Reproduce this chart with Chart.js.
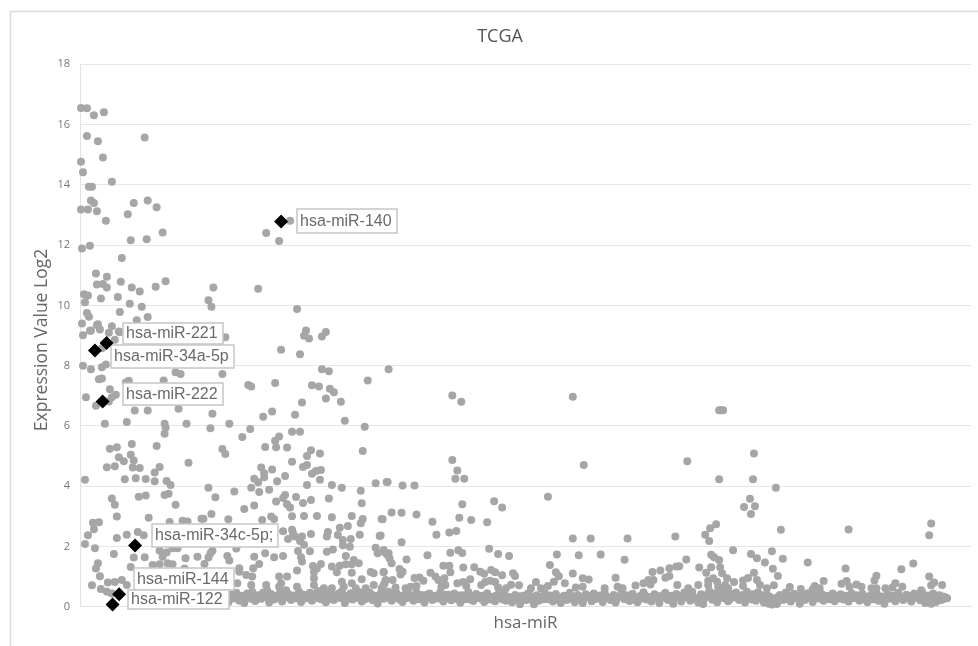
<!DOCTYPE html>
<html><head><meta charset="utf-8">
<style>html,body{margin:0;padding:0;background:#fff}#w{width:978px;height:646px;position:relative}</style>
<script src="https://cdn.jsdelivr.net/npm/chart.js@4"></script></head>
<body><div id="w"><canvas id="c" width="978" height="646"></canvas></div>
<script>
const chartTitle = 'TCGA';
const xTitle = 'hsa-miR';
const yTitle = 'Expression Value Log2';
const yTicks = [0,2,4,6,8,10,12,14,16,18];
const highlightNames = ['hsa-miR-140','hsa-miR-221','hsa-miR-34a-5p','hsa-miR-222','hsa-miR-34c-5p;','hsa-miR-144','hsa-miR-122'];
const highlightRank = [282,106.7,95,102.7,135.3,119.3,112.7];
const highlightValue = [12.78,8.75,8.5,6.81,2.03,0.41,0.07];
const sparsePoints = [[81,16.55],[87,16.54],[94,16.31],[104,16.41],[87,15.62],[98,15.45],[145,15.57],[103,14.91],[81,14.77],[83,14.42],[112,14.1],[89,13.94],[92,13.94],[91,13.48],[94,13.4],[148,13.48],[134,13.4],[157,13.26],[81,13.18],[88,13.18],[97,13.12],[128,13.02],[106,12.81],[163,12.42],[131,12.16],[147,12.19],[90,11.98],[82,11.89],[122,11.57],[96,11.06],[107,10.95],[97,10.69],[103,10.71],[107,10.59],[121,10.78],[132,10.59],[140,10.46],[156,10.62],[166,10.8],[84,10.37],[88,10.33],[101,10.23],[118,10.28],[85,10.1],[130,10.05],[142,9.95],[87,9.75],[89,9.62],[120,9.78],[148,9.61],[137,9.51],[82,9.4],[97,9.35],[112,9.31],[100,9.2],[90,9.16],[83,9.01],[120,9.11],[109,9.09],[209,10.17],[212,9.95],[214,10.59],[259,10.55],[267,12.4],[280,12.14],[291,12.81],[298,9.88],[307,9.17],[305,8.99],[310,8.9],[323,8.97],[327,9.12],[226,8.94],
[98,9.37],[91,9.17],[119,9.13],[115,8.86],[102,8.58],[282,8.53],[301,8.38],[83,8],[91,7.88],[102,7.95],[106,8.04],[176,7.78],[181,7.72],[223,7.72],[323,7.88],[330,7.81],[390,7.88],[99,7.55],[102,7.57],[126,7.44],[129,7.5],[164,7.51],[249,7.36],[252,7.31],[276,7.42],[369,7.51],[313,7.35],[320,7.31],[331,7.23],[335,7.12],[327,6.91],[342,6.8],[303,6.78],[110,7.22],[86,6.95],[116,7.03],[112,6.95],[109,6.81],[96,6.67],[135,6.51],[148,6.51],[179,6.57],[213,6.4],[273,6.48],[264,6.3],[296,6.37],[105,6.07],[127,6.13],[165,6.07],[166,5.94],[165,5.74],[187,6.07],[211,5.92],[230,6.07],[251,5.9],[346,6.17],[366,5.97],[293,5.81],[301,5.81],[243,5.63],[280,5.65],[276,5.51],[132,5.4],[117,5.29],[110,5.24],[157,5.33],[266,5.3],[277,5.29],[288,5.28],[223,5.23],[226,5.07],[364,5.17],[312,5.19],[321,5.08],[308,5],[119,4.96],[124,4.83],[131,5.04],[134,4.85],[189,4.78],[293,4.81],[107,4.63],[115,4.66],[133,4.62],[140,4.6],[160,4.64],[155,4.45],[262,4.62],[273,4.55],[308,4.7],[304,4.64],[322,4.54],[317,4.5],[313,4.41],[85,4.21],[125,4.23],[136,4.26],[146,4.24],[155,4.16],[167,4.17],[171,4.04],[265,4.43],[265,4.3],[255,4.25],[259,4.13],[278,4.16],[286,4.34],[321,4.21],[308,4.04],[333,4.04],[343,3.95],[377,4.1],[388,4.14],[209,3.95],[252,3.95],[260,3.81],[270,3.88],[235,3.82],[362,3.85],[216,3.63],[139,3.65],[146,3.69],[165,3.71],[169,3.75],[112,3.59],[115,3.38],[176,3.38],[286,3.71],[284,3.61],[297,3.64],[277,3.49],[304,3.44],[312,3.54],[330,3.59],[363,3.43],[288,3.4],[291,3.29],[255,3.36],[245,3.24],
[117,2.99],[149,2.95],[212,3.08],[202,2.92],[204,2.92],[229,2.9],[183,2.85],[188,2.83],[170,2.81],[263,2.88],[272,2.99],[275,2.91],[293,3],[305,3.01],[318,3.01],[333,2.97],[353,3.01],[364,2.91],[362,2.77],[383,2.91],[349,2.68],[341,2.62],[93,2.79],[99,2.8],[94,2.57],[88,2.37],[85,2.08],[95,1.94],[117,2.28],[127,2.39],[138,2.48],[144,2.37],[284,2.5],[293,2.55],[294,2.44],[296,2.33],[303,2.33],[312,2.41],[329,2.48],[328,2.33],[339,2.38],[361,2.39],[381,2.35],[289,2.25],[301,2.18],[344,2.21],[352,2.25],[344,2.04],[351,1.99],[305,2.06],[377,1.96],[385,1.88],[160,1.86],[167,1.8],[173,1.94],[178,1.94],[213,1.86],[211,1.77],[237,1.93],[266,1.77],[299,1.85],[311,1.84],[328,1.82],[334,1.9],[379,1.77],[390,1.77],[114,1.75],[134,1.63],[145,1.64],[163,1.66],[186,1.61],[198,1.66],[209,1.63],[228,1.68],[230,1.53],[255,1.66],[275,1.64],[284,1.68],[302,1.64],[347,1.68],[98,1.44],[96,1.27],[131,1.32],[153,1.38],[160,1.41],[168,1.44],[173,1.41],[205,1.42],[185,1.27],[260,1.42],[254,1.28],[303,1.5],[314,1.35],[322,1.42],[333,1.33],[341,1.36],[347,1.41],[355,1.55],[360,1.44],[318,1.27],[240,1.28],[353,1.41],[298,1.2],[338,1.14],[353,1.13],[315,1.15],[372,1.15],[375,1.11],[385,1.14],[240,1.16],[247,1.05],[253,1],[280,1],[288,1],[100,1.01],[122,0.89],[108,0.8],[115,0.82],[92,0.71],[101,0.59],[107,0.5],[112,0.44],[127,0.72],[315,0.94],[343,0.83],[267,0.72],[282,0.78],[298,0.66],[353,0.78],[363,0.91],[375,0.72],[386,0.78],[238,0.78],[252,0.72],[280,0.66],[315,0.72],[325,0.61],[333,0.61],[345,0.66],[357,0.61],[367,0.61],[383,0.61],[268,0.55],[287,0.55],
[454,7.01],[463,6.8],[575,6.97],[454,4.87],[459,4.52],[457,4.25],[466,4.25],[586,4.7],[389,4.14],[404,4.02],[416,4.02],[550,3.65],[496,3.5],[504,3.29],[464,3.4],[393,3.13],[403,3.12],[418,3.06],[384,2.9],[461,2.95],[473,2.88],[434,2.82],[489,2.8],[458,2.51],[451,2.46],[438,2.39],[382,2.36],[575,2.26],[593,2.26],[630,2.26],[678,2.33],[403,2.14],[491,1.92],[452,1.79],[460,1.87],[464,1.78],[500,1.75],[511,1.68],[559,1.73],[581,1.71],[603,1.73],[429,1.71],[385,1.83],[388,1.74],[391,1.6],[393,1.44],[408,1.57],[627,1.56],[552,1.38],[445,1.36],[451,1.36],[465,1.3],[476,1.31],[401,1.25],[404,1.16],[402,1.07],[385,1.15],[452,1.14],[432,1.13],[482,1.16],[486,1.09],[493,1.22],[497,1.14],[504,1.04],[515,1.11],[517,1.02],[558,1.14],[561,1.01],[575,1.1],[655,1.15],[663,1.2],[672,1.28],[679,1.33],[672,1.02],[668,0.96],[416,0.95],[421,0.97],[425,0.86],[437,1],[440,0.89],[446,0.94],[387,0.89],[394,0.89],[618,0.96],[585,0.94],[591,0.9],[656,0.89],[651,0.89],[653,0.74],[646,0.78],[638,0.7],[538,0.82],[556,0.83],[567,0.78],[459,0.78],[465,0.82],[472,0.91],[487,0.82],[492,0.86],[497,0.82],[513,0.73],[521,0.71],[447,0.72],[385,0.72],[397,0.64],[407,0.61],[412,0.66],[418,0.69],[443,0.66],[468,0.69],[483,0.72],[500,0.64],[508,0.61],[533,0.61],[543,0.61],[550,0.69],[578,0.64],[585,0.66],[607,0.61],[620,0.66],[625,0.61],[680,0.72],
[722,6.52],[726,6.52],[724,6.52],[757,5.08],[690,4.83],[722,4.23],[756,4.23],[779,3.95],[753,3.58],[747,3.31],[758,3.33],[754,3.08],[719,2.74],[713,2.6],[708,2.39],[712,2.18],[784,2.55],[852,2.56],[935,2.76],[933,2.37],[736,1.87],[775,1.84],[754,1.75],[714,1.72],[717,1.64],[722,1.55],[760,1.61],[768,1.47],[786,1.59],[689,1.57],[811,1.47],[682,1.34],[702,1.3],[714,1.31],[723,1.31],[776,1.26],[849,1.27],[905,1.24],[917,1.43],[709,1.13],[725,1.11],[757,1.13],[781,1.02],[880,1.03],[878,0.87],[933,1],[751,0.95],[746,0.87],[827,0.85],[850,0.85],[845,0.76],[899,0.78],[946,0.72],[938,0.8],[935,0.71],[777,0.71],[793,0.65],[804,0.59],[818,0.69],[860,0.74],[865,0.66],[889,0.61],[906,0.66],[896,0.64],[701,0.72],[711,0.86],[716,0.94],[720,0.83],[730,0.94],[737,0.82],[728,0.72],[760,0.89],[763,0.72],[746,0.69],[711,0.72],[721,0.66],[731,0.61],[691,0.61],[770,0.61],[816,0.58],[823,0.61],[853,0.66],[875,0.61],[880,0.61],[925,0.55]];
const bandPoints = [[196,0.32],[199,0.45],[201,0.22],[204,0.38],[207,0.28],[210,0.47],[212,0.18],[215,0.34],[218,0.42],[221,0.24],[223,0.5],[226,0.3],[229,0.15],[232,0.4],[234,0.27],[237,0.46],[240,0.2],[242,0.36],[245,0.12],[248,0.44],[251,0.29],[253,0.5],[256,0.19],[259,0.38],[262,0.26],[264,0.47],[267,0.33],[270,0.14],[272,0.42],[275,0.24],[278,0.36],[281,0.49],[283,0.17],[286,0.31],[289,0.43],[292,0.22],[294,0.37],[297,0.28],[300,0.5],[302,0.16],[305,0.4],[308,0.3],[311,0.46],[313,0.2],[316,0.35],[319,0.52],[322,0.25],[324,0.42],[327,0.15],[330,0.33],[332,0.48],[335,0.22],[338,0.39],[341,0.29],[343,0.51],[346,0.12],[349,0.36],[352,0.45],[354,0.24],[357,0.32],[360,0.49],[363,0.17],[365,0.41],[368,0.28],[371,0.47],[374,0.21],[376,0.36],[379,0.11],[382,0.44],[385,0.26],[387,0.38],[390,0.5],[393,0.2],[396,0.33],[398,0.45],[401,0.24],[404,0.16],[407,0.41],[409,0.29],[412,0.35],[415,0.2],[418,0.47],[420,0.27],[423,0.39],[426,0.14],[429,0.32],[431,0.44],[434,0.22],[437,0.36],[440,0.27],[442,0.49],[445,0.17],[448,0.4],[451,0.3],[453,0.21],[456,0.44],[459,0.33],[462,0.13],[464,0.38],[467,0.25],[470,0.49],[473,0.31],[475,0.19],[478,0.42],[481,0.28],[484,0.36],[486,0.16],[489,0.45],[492,0.24],[495,0.33],[497,0.18],[500,0.4],[503,0.27],[506,0.46],[508,0.2],[511,0.32],[514,0.15],[517,0.39],[519,0.26],[522,0.08],[525,0.36],[528,0.22],[530,0.44],[533,0.3],[536,0.08],[539,0.38],[541,0.2],[544,0.33],[547,0.45],[550,0.25],[552,0.37],[555,0.17],[558,0.42],[561,0.28],[563,0.12],[566,0.36],[569,0.22],[572,0.46],[574,0.3],[577,0.15],[580,0.39],[583,0.26],[585,0.12],[588,0.41],[591,0.32],[594,0.18],[596,0.44],[599,0.27],[602,0.37],[605,0.16],[607,0.47],[610,0.3],[613,0.22],[616,0.39],[618,0.14],[621,0.33],[624,0.47],[627,0.25],[629,0.38],[632,0.19],[635,0.43],[638,0.3],[640,0.15],[643,0.36],[646,0.48],[649,0.24],[651,0.32],[654,0.17],[657,0.41],[660,0.27],[662,0.12],[665,0.37],[668,0.46],[671,0.22],[673,0.33],[676,0.1],[679,0.42],[682,0.28],[684,0.17],[687,0.47],[690,0.35],[693,0.2],[695,0.5],[698,0.3],[701,0.14],[704,0.41],[706,0.09],[709,0.34],[712,0.52],[715,0.23],[717,0.44],[720,0.15],[723,0.37],[726,0.5],[728,0.27],[731,0.18],[734,0.42],[737,0.33],[739,0.47],[742,0.22],[745,0.38],[748,0.14],[750,0.5],[753,0.29],[756,0.41],[759,0.2],[761,0.48],[764,0.33],[767,0.14],[770,0.4],[772,0.1],[775,0.07],[778,0.27],[780,0.09],[783,0.39],[786,0.22],[789,0.47],[791,0.32],[794,0.17],[797,0.43],[800,0.28],[803,0.1],[805,0.38],[808,0.22],[811,0.45],[814,0.31],[816,0.16],[819,0.4],[822,0.27],[825,0.42],[827,0.2],[830,0.36],[833,0.25],[836,0.44],[838,0.18],[841,0.33],[844,0.41],[847,0.24],[849,0.36],[852,0.17],[855,0.45],[858,0.29],[860,0.38],[863,0.2],[866,0.43],[869,0.31],[871,0.15],[874,0.37],[877,0.25],[880,0.46],[882,0.2],[885,0.34],[888,0.1],[891,0.41],[893,0.26],[896,0.36],[899,0.18],[902,0.46],[904,0.3],[907,0.22],[910,0.4],[913,0.27],[915,0.17],[918,0.44],[921,0.33],[924,0.21],[926,0.48],[929,0.12],[932,0.37],[935,0.1],[937,0.44],[940,0.16],[943,0.38],[945,0.22],[948,0.33],[951,0.28]];
const bandFill = [[198,0.3],[203,0.26],[208,0.36],[213,0.3],[219,0.28],[224,0.35],[230,0.29],[236,0.32],[241,0.28],[247,0.33],[252,0.26],[258,0.31],[263,0.36],[269,0.27],[274,0.33],[280,0.3],[285,0.38],[291,0.28],[296,0.33],[301,0.4],[306,0.27],[310,0.36],[315,0.43],[318,0.29],[323,0.34],[328,0.41],[331,0.26],[336,0.35],[340,0.44],[344,0.3],[348,0.25],[351,0.38],[355,0.42],[359,0.3],[362,0.37],[366,0.25],[370,0.34],[373,0.4],[377,0.28],[381,0.36],[384,0.46],[388,0.3],[392,0.35],[395,0.42],[399,0.28],[403,0.36],[406,0.3],[410,0.43],[414,0.3],[417,0.36],[421,0.25],[425,0.32],[428,0.4],[432,0.3],[436,0.26],[439,0.36],[443,0.32],[447,0.27],[450,0.4],[454,0.31],[458,0.26],[461,0.37],[465,0.3],[469,0.34],[472,0.24],[476,0.37],[480,0.32],[483,0.27],[487,0.35],[491,0.3],[494,0.25],[498,0.36],[502,0.3],[505,0.24],[509,0.33],[513,0.27],[516,0.3],[520,0.35],[524,0.28],[527,0.32],[531,0.25],[535,0.34],[538,0.27],[542,0.31],[546,0.25],[549,0.36],[553,0.29],[557,0.32],[560,0.24],[564,0.3],[568,0.35],[571,0.27],[575,0.33],[579,0.25],[582,0.31],[586,0.26],[590,0.35],[593,0.3],[597,0.25],[601,0.32],[604,0.28],[608,0.36],[612,0.27],[615,0.32],[619,0.25],[623,0.36],[626,0.3],[630,0.27],[634,0.35],[637,0.24],[641,0.32],[645,0.27],[648,0.36],[652,0.25],[656,0.31],[659,0.36],[663,0.27],[667,0.32],[670,0.25],[674,0.36],[678,0.3],[681,0.35],[685,0.27],[689,0.32],[692,0.4],[696,0.3],[700,0.24],[703,0.33],[707,0.26],[711,0.42],[714,0.32],[718,0.27],[722,0.43],[725,0.3],[729,0.36],[733,0.25],[736,0.4],[740,0.3],[744,0.26],[747,0.4],[751,0.32],[755,0.24],[758,0.36],[762,0.3],[766,0.38],[769,0.25],[773,0.33],[777,0.2],[781,0.32],[784,0.27],[788,0.36],[792,0.24],[795,0.31],[799,0.37],[803,0.26],[806,0.32],[810,0.28],[813,0.36],[817,0.27],[821,0.34],[824,0.3],[828,0.26],[832,0.33],[835,0.29],[839,0.36],[843,0.27],[846,0.32],[850,0.26],[854,0.36],[857,0.3],[861,0.28],[865,0.34],[868,0.25],[872,0.32],[876,0.36],[879,0.27],[883,0.33],[887,0.26],[890,0.31],[894,0.36],[898,0.28],[901,0.33],[905,0.26],[909,0.32],[912,0.36],[916,0.27],[920,0.3],[923,0.36],[927,0.26],[931,0.33],[934,0.28],[938,0.32],[941,0.26],[944,0.36],[947,0.25],[950,0.3]];

// label box placement relative to the highlighted marker: dx, dy, width, height
const labelDx = [16,16,16,20,17,15,15];
const labelDy = [-13,-20,-6,-18,-22,-26,-15];
const labelW = [100,100,123,100,126,100,101];
const labelH = [24,21,23,22,23,22,19];

const frame = {id:'frame', beforeDraw(ch){
  const c = ch.ctx; c.save();
  c.fillStyle='#fff'; c.fillRect(0,0,978,646);
  c.strokeStyle='#dcdcdc'; c.lineWidth=1.5;
  c.beginPath(); c.moveTo(10.5,646); c.lineTo(10.5,11.5); c.lineTo(978,11.5); c.stroke();
  c.restore();
}, afterDraw(ch){
  const c = ch.ctx; c.save();
  c.translate(42,340); c.rotate(-Math.PI/2);
  c.font='17.5px "Open Sans"'; c.fillStyle='#666'; c.textAlign='center'; c.textBaseline='middle';
  c.fillText(yTitle,0,0);
  c.restore();
}};
const boxes = {id:'boxes', afterDatasetDraw(ch,args){
  if(args.index!==0) return;
  const c=ch.ctx, sx=ch.scales.x, sy=ch.scales.y;
  c.save();
  c.font='16px "Liberation Sans"'; c.textBaseline='middle'; c.textAlign='left';
  highlightNames.forEach((name,i)=>{
    const x=Math.round(sx.getPixelForValue(highlightRank[i])+labelDx[i]);
    const y=Math.round(sy.getPixelForValue(highlightValue[i])+labelDy[i]);
    c.fillStyle='#fff'; c.fillRect(x,y,labelW[i],labelH[i]);
    c.strokeStyle='#c6c6c6'; c.lineWidth=1.5; c.strokeRect(x,y,labelW[i],labelH[i]);
    c.fillStyle='#6a6a6a'; c.fillText(name,x+3,y+labelH[i]/2+0.5);
  });
  c.restore();
}};
new Chart(document.getElementById('c'),{
  type:'scatter',
  data:{datasets:[
    {data:sparsePoints.concat(bandPoints,bandFill).map(p=>({x:p[0],y:p[1]})),backgroundColor:'#a6a6a6',borderWidth:0,pointRadius:4,order:2,clip:false},
    {data:highlightRank.map((x,i)=>({x,y:highlightValue[i]})),backgroundColor:'#000',borderWidth:0,pointStyle:'rectRot',pointRadius:7,order:1,clip:false}
  ]},
  plugins:[frame,boxes],
  options:{
    responsive:false,animation:false,
    layout:{padding:{left:25,right:3,top:0,bottom:0}},
    plugins:{legend:{display:false},tooltip:{enabled:false},
      title:{display:true,text:chartTitle,color:'#555',font:{family:'"Open Sans"',size:18,weight:'normal'},padding:{top:26,bottom:16.7}}},
    scales:{
      x:{type:'linear',min:80,max:975,grid:{display:false},border:{display:true,color:'#e2e2e2'},
        ticks:{display:false},
        title:{display:true,text:xTitle,color:'#666',font:{family:'"Open Sans"',size:17},padding:{top:0,bottom:13}},
        afterFit(s){s.height=39.3;}},
      y:{min:0,max:18,afterBuildTicks(s){s.ticks=yTicks.map(v=>({value:v}));},
        grid:{color:'#e6e6e6',drawTicks:false},border:{display:true,color:'#e2e2e2'},
        ticks:{color:'#777',padding:10,font:{family:'"Open Sans"',size:11}},
        afterFit(s){s.width=55;}}
    }
  }
});
</script></body></html>
